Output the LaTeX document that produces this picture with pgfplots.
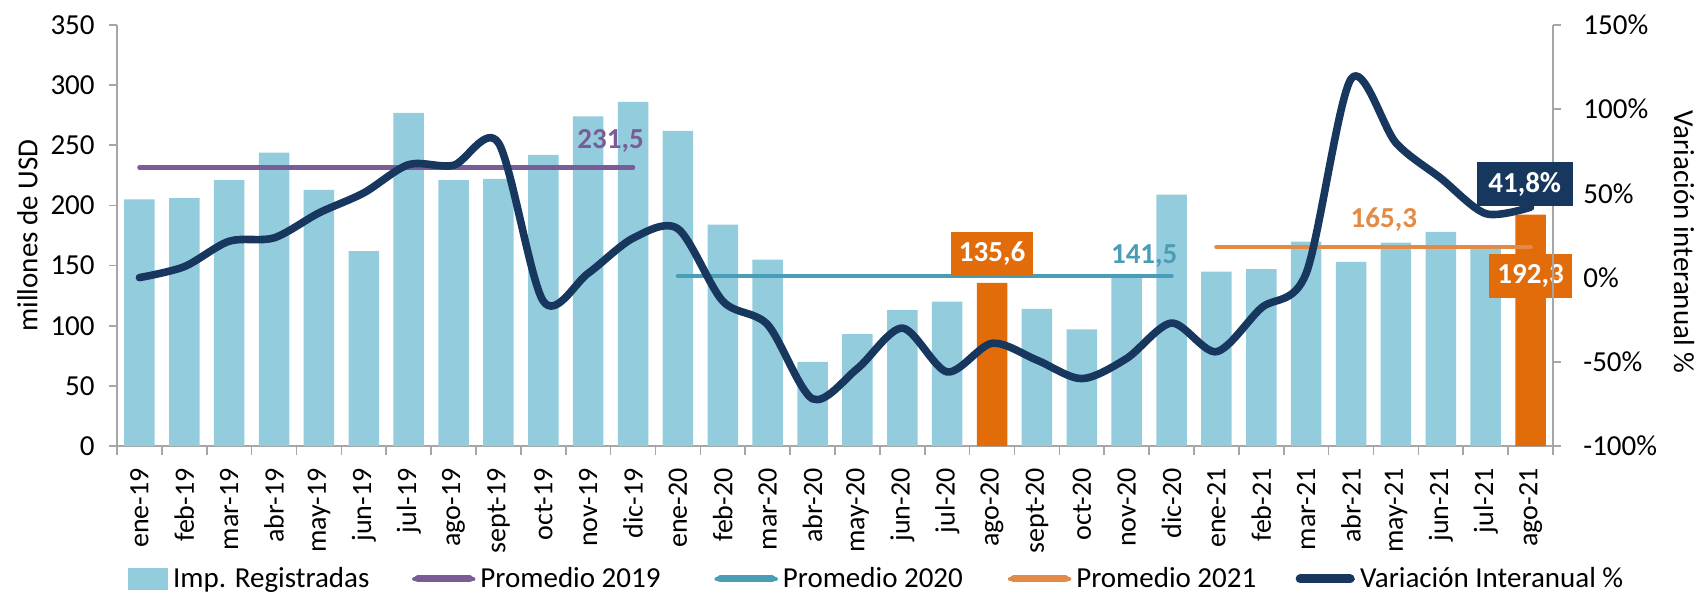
\documentclass[border=0pt]{standalone}
\usepackage{pgfplots}
\pgfplotsset{compat=1.18}
\usepackage{fontspec}
\setmainfont{Carlito}
\definecolor{barblue}{HTML}{93CDDD}
\definecolor{barorange}{HTML}{E36C0A}
\definecolor{avgA}{HTML}{7A5C96}
\definecolor{avgB}{HTML}{4A9DB6}
\definecolor{avgC}{HTML}{E38B46}
\definecolor{navy}{HTML}{17375E}
\definecolor{axgray}{HTML}{A6A6A6}
\newcommand{\fs}{\fontsize{14.5}{17}\selectfont}
\newcommand{\fx}{\fontsize{14}{16}\selectfont}
\begin{document}
\begin{tikzpicture}
\useasboundingbox (0,0) rectangle (849pt,297.5pt);
\begin{axis}[
  at={(58.5pt,74.5pt)}, anchor=south west,
  scale only axis, width=718pt, height=210.5pt,
  xmin=-0.5, xmax=31.5, ymin=0, ymax=350,
  axis x line*=bottom, axis y line*=left,
  axis line style={axgray, line width=0.8pt},
  tick align=outside,
  major tick length=4pt, minor tick length=4.5pt,
  xtick={0,...,31},
  xticklabels={ene-19,feb-19,mar-19,abr-19,may-19,jun-19,jul-19,ago-19,sept-19,oct-19,nov-19,dic-19,ene-20,feb-20,mar-20,abr-20,may-20,jun-20,jul-20,ago-20,sept-20,oct-20,nov-20,dic-20,ene-21,feb-21,mar-21,abr-21,may-21,jun-21,jul-21,ago-21},
  major x tick style={draw=none},
  minor xtick={-0.5,0.5,...,31.5},
  minor x tick style={axgray, line width=0.8pt},
  ytick={0,50,...,350},
  y tick style={axgray, line width=0.8pt},
  /pgf/number format/assume math mode=true,
  xticklabel style={rotate=90, anchor=east, font=\fx, inner sep=0pt},
  xticklabel shift=7pt,
  yticklabel style={anchor=east, font=\fs, inner sep=0pt},
  yticklabel shift=7pt,
  clip=false,
  legend columns=5,
  legend style={at={(0.0077,-0.3159)}, anchor=west, draw=none, fill=none,
    inner sep=0pt, outer sep=0pt, column sep=2.5pt,
    nodes={inner sep=0pt, anchor=west}, font=\fs},
  legend cell align=left,
]
\addplot[ybar, bar width=0.68, bar shift=0pt, fill=barblue, draw=none,
  legend image code/.code={\fill[barblue] (0pt,-5.5pt) rectangle (20pt,5.5pt);}]
  coordinates {(0,205) (1,206) (2,221) (3,244) (4,213) (5,162) (6,277) (7,221)
  (8,222) (9,242) (10,274) (11,286) (12,262) (13,184) (14,155) (15,70) (16,93)
  (17,113) (18,120) (20,114) (21,97) (22,143) (23,209) (24,145) (25,147)
  (26,170) (27,153) (28,169) (29,178) (30,164)};
\addlegendentry{\makebox[117pt][l]{Imp. Registradas}}
\addplot[ybar, bar width=0.68, bar shift=0pt, fill=barorange, draw=none, forget plot]
  coordinates {(19,135.6) (31,192.3)};
\addplot[avgA, line width=2.2pt, line cap=round,
  legend image code/.code={\draw[line width=3.5pt,line cap=round] (1.75pt,0pt) -- (27.75pt,0pt); \path (0pt,0pt) -- (29.5pt,0pt);}]
  coordinates {(0,231.5) (11,231.5)};
\addlegendentry{\makebox[114.5pt][l]{Promedio 2019}}
\addplot[avgB, line width=2.2pt, line cap=round,
  legend image code/.code={\draw[line width=3.5pt,line cap=round] (1.75pt,0pt) -- (27.75pt,0pt); \path (0pt,0pt) -- (29.5pt,0pt);}]
  coordinates {(12,141.5) (23,141.5)};
\addlegendentry{\makebox[110pt][l]{Promedio 2020}}
\addplot[avgC, line width=2.2pt, line cap=round,
  legend image code/.code={\draw[line width=3.5pt,line cap=round] (1.75pt,0pt) -- (27.75pt,0pt); \path (0pt,0pt) -- (29.5pt,0pt);}]
  coordinates {(24,165.3) (31,165.3)};
\addlegendentry{\makebox[107pt][l]{Promedio 2021}}
\addlegendimage{navy, legend image code/.code={\draw[line width=4.5pt,line cap=round] (2.25pt,0pt) -- (27.25pt,0pt); \path (0pt,0pt) -- (29.5pt,0pt);}}
\addlegendentry{Variación Interanual \%}
\node[font=\bfseries\fs, text=avgA] at (axis cs:10.5,254) {231,5};
\node[font=\bfseries\fs, text=avgB] at (axis cs:22.39,158) {141,5};
\node[font=\bfseries\fs, text=avgC] at (axis cs:27.73,188) {165,3};
\node[fill=barorange, text=white, font=\bfseries\fs, minimum width=41.3pt, minimum height=22pt, inner sep=0pt] at (axis cs:19,159.6) {135,6};
\node[fill=barorange, text=white, font=\bfseries\fs, minimum width=41.5pt, minimum height=22pt, inner sep=0pt] at (axis cs:31,141.45) {192,3};
\node[rotate=90, font=\fs] at (rel axis cs:-0.0623,0.5) {millones de USD};
\node[rotate=-90, font=\fs] at (rel axis cs:1.0912,0.4846) {Variación interanual \%};
\end{axis}
\begin{axis}[
  at={(58.5pt,74.5pt)}, anchor=south west,
  scale only axis, width=718pt, height=210.5pt,
  xmin=-0.5, xmax=31.5, ymin=-100, ymax=150,
  axis x line=none, axis y line*=right,
  axis line style={axgray, line width=0.8pt},
  tick align=outside, major tick length=4pt,
  ytick={-100,-50,0,50,100,150},
  yticklabels={-100\%,-50\%,0\%,50\%,100\%,150\%},
  y tick style={axgray, line width=0.8pt},
  yticklabel style={anchor=west, font=\fs, inner sep=0pt},
  yticklabel shift=11pt,
  clip=false,
]
\addplot[navy, line width=3.8pt, smooth, line join=round, line cap=round]
  coordinates {(0,0) (1,6.5) (2,21.6) (3,23.6) (4,38.4) (5,50.3) (6,67.1) (7,66.7)
  (8,80) (9,-14) (10,2.6) (11,23.4) (12,29) (13,-14) (14,-28) (15,-72) (16,-54)
  (17,-30) (18,-56) (19,-39) (20,-49) (21,-60) (22,-48) (23,-27) (24,-44)
  (25,-18) (26,2.6) (27,118) (28,80) (29,59) (30,38) (31,41.8)};
\node[fill=navy, text=white, font=\bfseries\fs, minimum width=48pt, minimum height=22pt, inner sep=0pt] at (axis cs:30.87,55.6) {41,8\%};
\end{axis}
\end{tikzpicture}
\end{document}
